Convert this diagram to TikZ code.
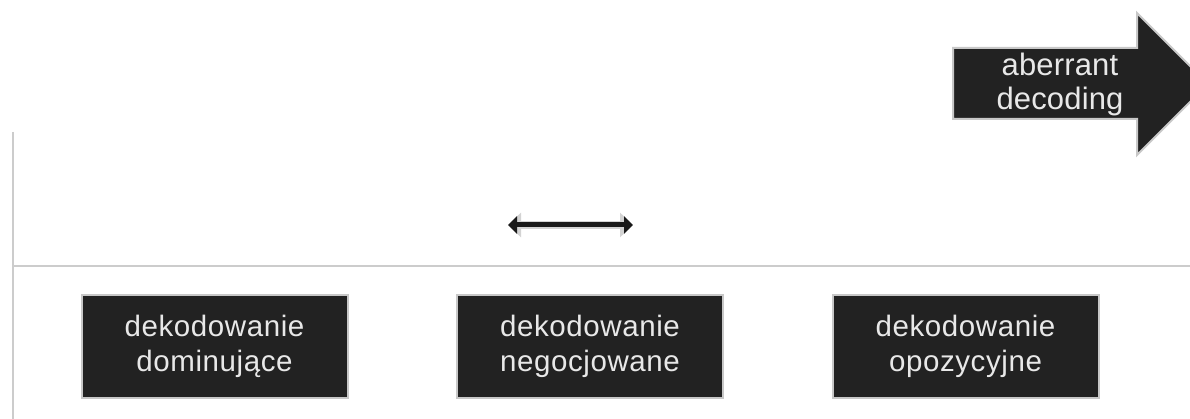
\documentclass[tikz,border=0pt]{standalone}
\usepackage{fontspec}
\setmainfont{Liberation Sans}
\newfontfamily\boxfont[LetterSpace=2]{Liberation Sans}
\newfontfamily\arrowfont[LetterSpace=0.5]{Liberation Sans}
\usetikzlibrary{arrows.meta}
\definecolor{boxfill}{HTML}{222222}
\definecolor{rimgray}{HTML}{C8C8C8}
\definecolor{txtgray}{HTML}{E8E8E8}
\definecolor{axisgray}{HTML}{CCCCCC}
\tikzset{
  decbox/.style={draw=rimgray, line width=2pt, fill=boxfill, text=txtgray,
    minimum width=266pt, minimum height=103pt, inner sep=0pt, align=center,
    font=\boxfont\fontsize{29.5}{35}\selectfont},
  arrowtext/.style={text=txtgray, align=center, inner sep=0pt,
    font=\arrowfont\fontsize{31}{34}\selectfont},
  axisline/.style={draw=axisgray, line width=2pt},
}
\begin{document}
\begin{tikzpicture}[x=1pt,y=-1pt]
\useasboundingbox (0,0) rectangle (1190,419);
\clip (0,0) rectangle (1190,419);
% axes
\coordinate (vtop) at (12.5,132);
\coordinate (vbot) at (12.5,419);
\coordinate (hl) at (12.5,266);
\coordinate (hr) at (1190,266);
\draw[axisline] (vtop) -- (vbot);
\draw[axisline] (hl) -- (hr);
% boxes
\node[decbox] (dom) at (214.5,346.5) {dekodowanie\\dominujące};
\node[decbox] (neg) at (590,346.5) {dekodowanie\\negocjowane};
\node[decbox] (opo) at (965.5,346.5) {dekodowanie\\opozycyjne};
% double arrow
\coordinate (da) at (508,225);
\coordinate (db) at (633,225);
\draw[draw=rimgray!80, line width=8pt, {Triangle[width=24pt,length=13pt]}-{Triangle[width=24pt,length=13pt]}] (da) -- (db);
\draw[draw=black!90, line width=5pt, {Triangle[width=17pt,length=9pt]}-{Triangle[width=17pt,length=9pt]}] (da) -- (db);
% big arrow
\draw[draw=rimgray, line width=2pt, fill=boxfill, line join=miter]
  (953,48) -- (1137,48) -- (1137,13) -- (1208,84) -- (1137,155) -- (1137,119) -- (953,119) -- cycle;
\node[arrowtext] (aberrant) at (1060,84) {aberrant\\decoding};
\end{tikzpicture}
\end{document}
